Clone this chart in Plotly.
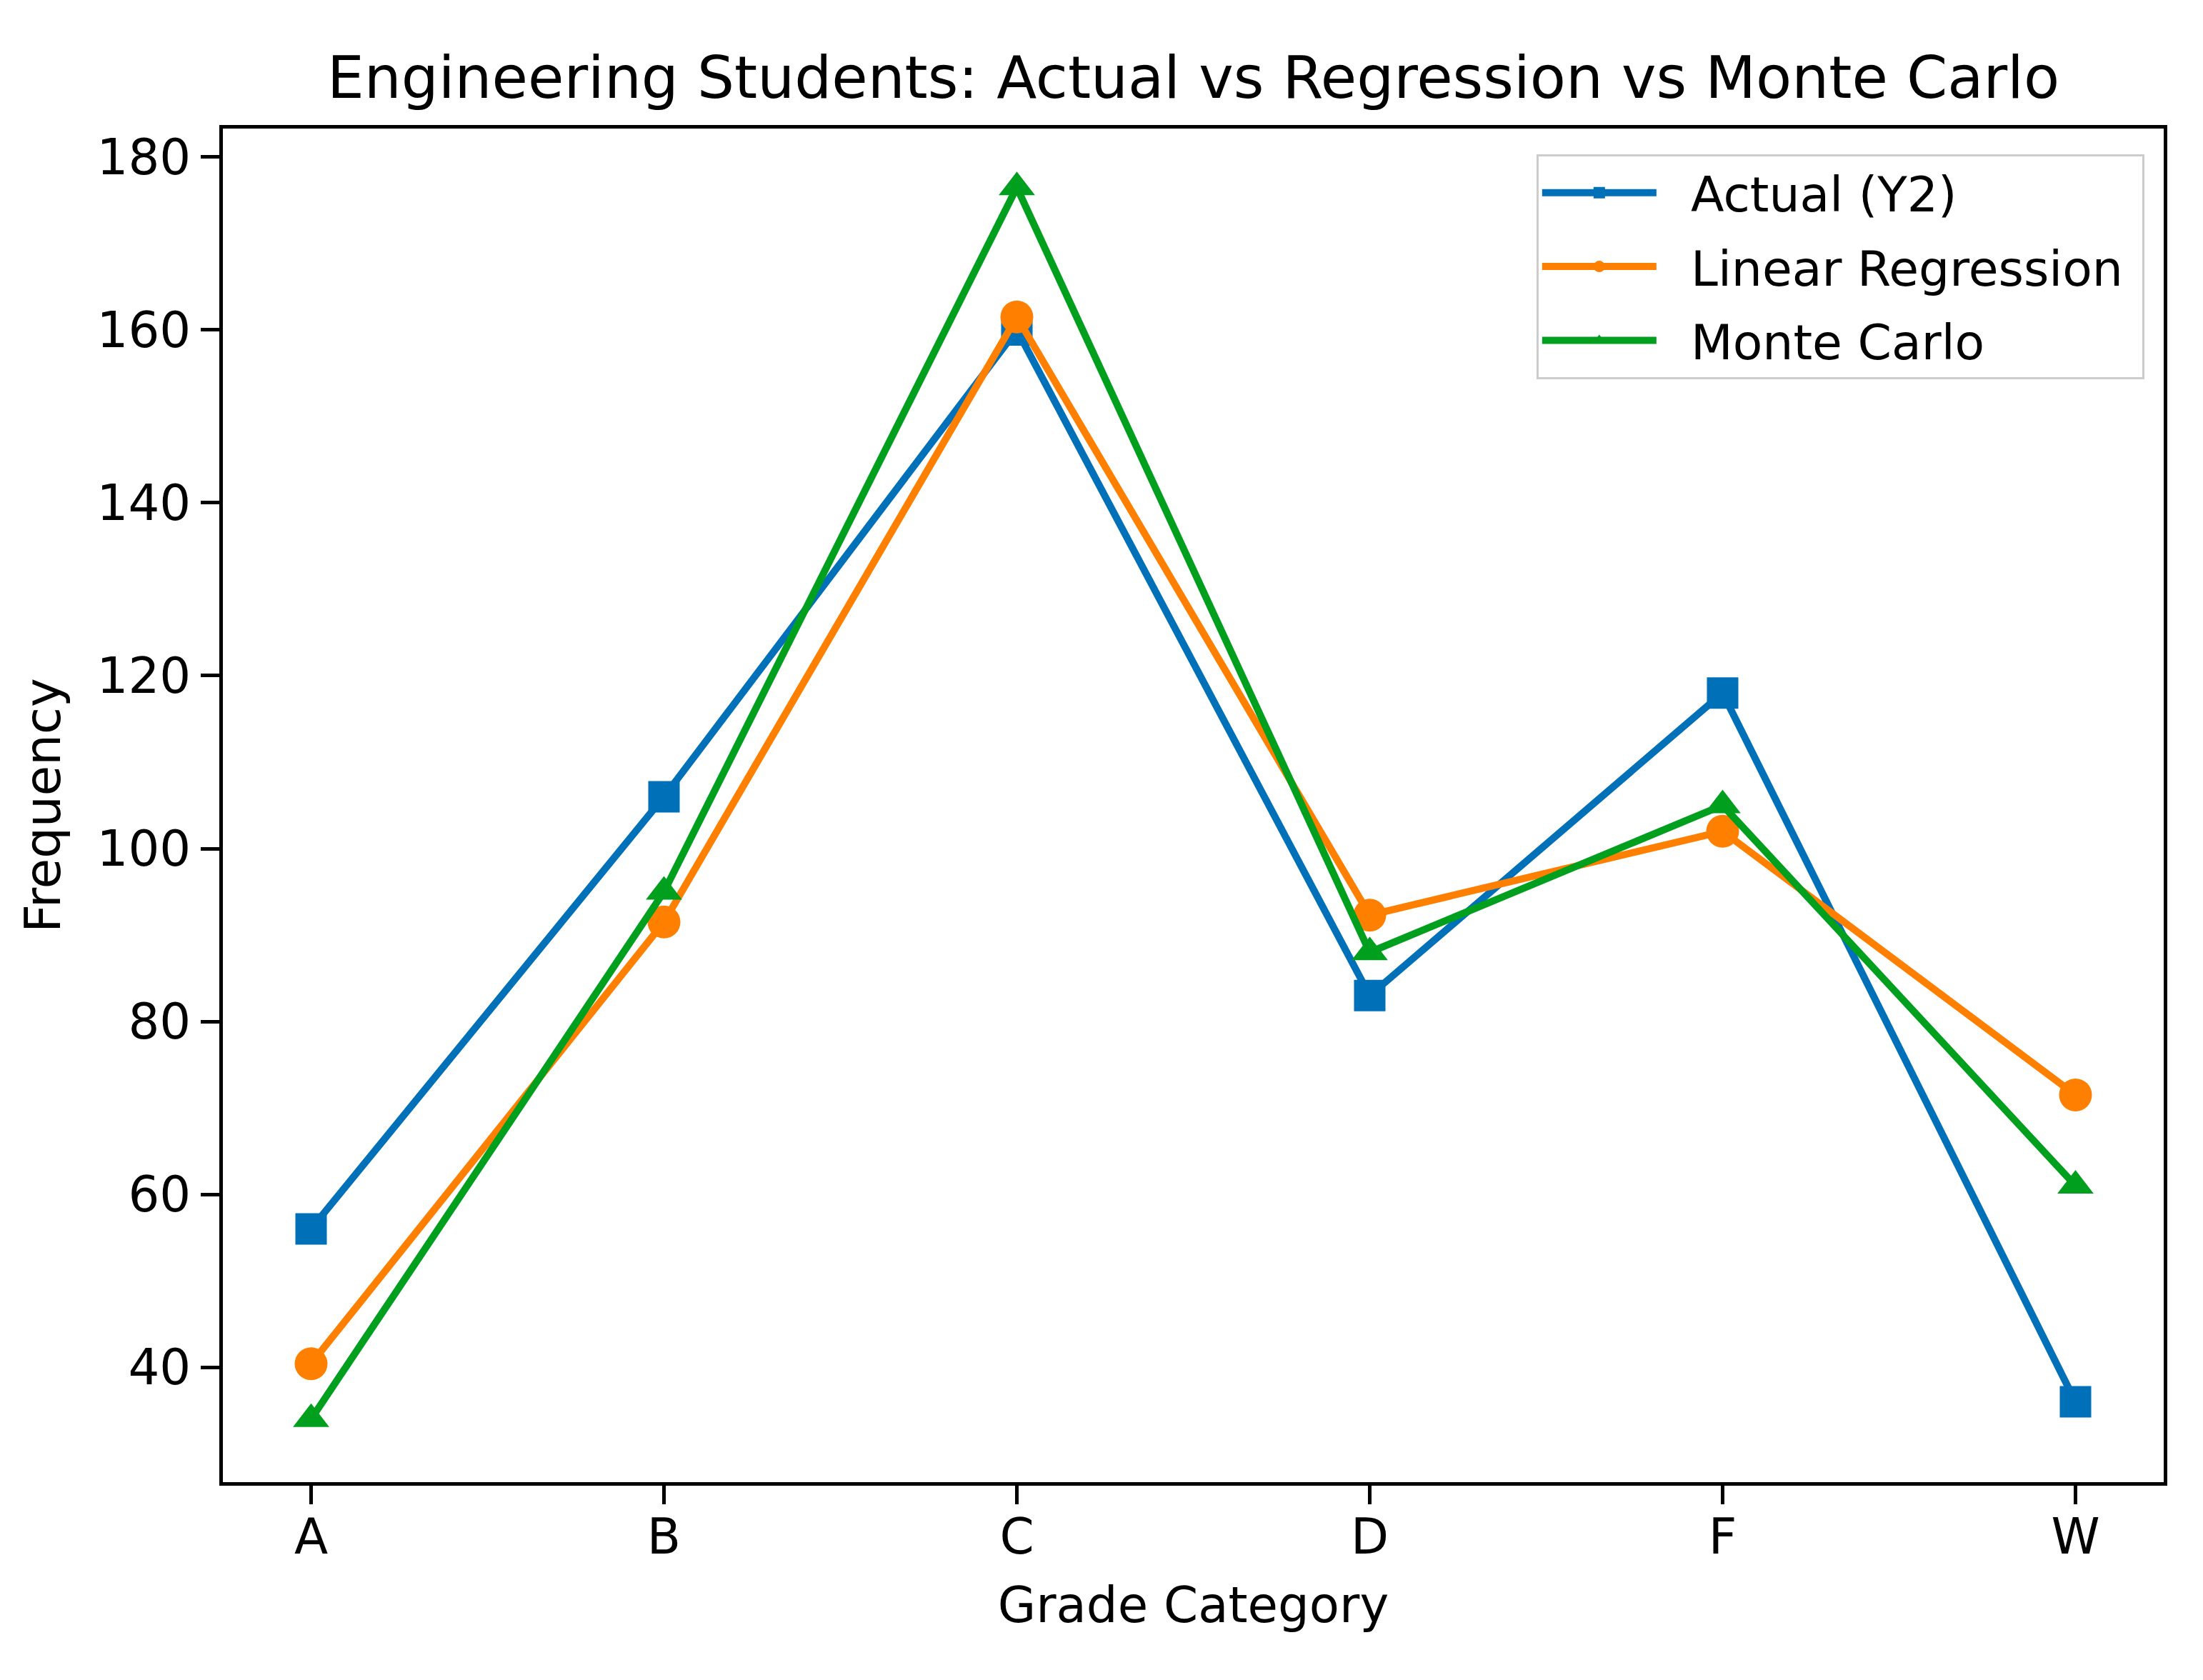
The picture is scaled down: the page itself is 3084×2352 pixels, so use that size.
import plotly.graph_objects as go

categories = ["A", "B", "C", "D", "F", "W"]
actual_y2 = [56, 106, 160, 83, 118, 36]
linear_regression = [40.4, 91.5, 161.5, 92.3, 102, 71.5]
monte_carlo = [34, 95, 176.5, 88, 105, 61]
y_ticks = [40, 60, 80, 100, 120, 140, 160, 180]
series_names = ["Actual (Y2)", "Linear Regression", "Monte Carlo"]

FONT = "DejaVu Sans"
styles = [
    ("#0070b8", "square", 44),
    ("#ff7f00", "circle", 46),
    ("#00a01e", "triangle-up", 44),
]
values = [actual_y2, linear_regression, monte_carlo]

fig = go.Figure()
for i, (name, vals, (color, sym, size)) in enumerate(zip(series_names, values, styles)):
    fig.add_trace(go.Scatter(
        x=categories, y=vals, name="\u00a0\u00a0" + name + "\u00a0", mode="lines+markers",
        legendgroup=f"g{i}",
        line=dict(color=color, width=10),
        marker=dict(symbol=sym, size=size, color=color, line=dict(width=0)),
    ))

fig.update_layout(
    width=3084, height=2352,
    paper_bgcolor="white", plot_bgcolor="white",
    margin=dict(l=312, r=55, t=180, b=277),
    font=dict(family=FONT, size=69, color="black"),
    title=dict(text="Engineering Students: Actual vs Regression vs Monte Carlo",
               x=0.5, xref="paper", xanchor="center", y=1 - 108 / 2352, yanchor="middle",
               font=dict(size=82, family=FONT, color="black")),
    showlegend=True,
    legend=dict(x=0.99, y=0.981, xanchor="right", yanchor="top",
                bgcolor="rgba(255,255,255,0.85)", bordercolor="#cccccc", borderwidth=3,
                font=dict(size=68, family=FONT), traceorder="grouped",
                tracegroupgap=12, itemwidth=160),
)
fig.update_xaxes(
    range=[-0.25, 5.25], type="category",
    showline=True, linecolor="black", linewidth=5, mirror=True,
    ticks="outside", ticklen=26, tickwidth=5, tickcolor="black",
    showgrid=False, zeroline=False, ticklabelstandoff=-14,
    tickfont=dict(size=69, family=FONT),
    title=dict(text="Grade Category", font=dict(size=69, family=FONT), standoff=34),
)
fig.update_yaxes(
    range=[26.7, 183.3], tickvals=y_ticks,
    showline=True, linecolor="black", linewidth=5, mirror=True,
    ticks="outside", ticklen=26, tickwidth=5, tickcolor="black",
    showgrid=False, zeroline=False,
    tickfont=dict(size=69, family=FONT),
    title=dict(text="Frequency", font=dict(size=69, family=FONT), standoff=30),
)

fig.write_html("out.html")
